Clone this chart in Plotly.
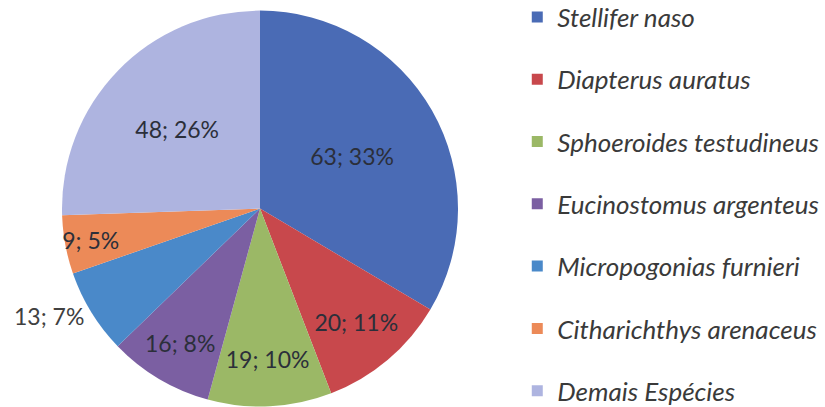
import plotly.graph_objects as go

species = ["Stellifer naso", "Diapterus auratus", "Sphoeroides testudineus",
           "Eucinostomus argenteus", "Micropogonias furnieri",
           "Citharichthys arenaceus", "Demais Espécies"]
counts = [63, 20, 19, 16, 13, 9, 48]
percent_labels = [33, 11, 10, 8, 7, 5, 26]
colors = ["#4A6BB5", "#C8484C", "#9BB866", "#7B5FA2", "#4A89C9", "#EC8A58", "#AEB4E0"]
text_positions = ["inside", "inside", "inside", "inside", "outside", "inside", "inside"]

FONT = "Lato"
labels_text = [f"{c}; {p}%" for c, p in zip(counts, percent_labels)]

fig = go.Figure()
fig.add_trace(go.Pie(
    labels=species, values=counts, text=labels_text, textinfo="text",
    textposition=text_positions, insidetextorientation="horizontal",
    sort=False, direction="clockwise", rotation=0, automargin=False,
    marker=dict(colors=colors, line=dict(width=0)),
    textfont=dict(family=FONT, size=23, color="#2b2f3a"),
    outsidetextfont=dict(family=FONT, size=23, color="#404040"),
    showlegend=False, hoverinfo="label+value+percent",
    domain=dict(x=[62/825, 458/825], y=[0, 0.975]),
))

legend_layout = {}
for i, (name, col) in enumerate(zip(species, colors)):
    key = "legend" if i == 0 else f"legend{i+1}"
    fig.add_trace(go.Scatter(
        x=[None], y=[None], mode="markers", name=name, legend=key,
        marker=dict(symbol="square", size=11, color=col),
    ))
    yc = 17 + i * 62.3
    legend_layout[key] = dict(
        x=0.627, y=1 - yc / 407, xanchor="left", yanchor="middle",
        font=dict(family=FONT, size=26, color="#3a3a3a", style="italic"),
        bgcolor="rgba(0,0,0,0)", borderwidth=0,
    )

fig.update_layout(
    width=825, height=407,
    margin=dict(l=0, r=0, t=0, b=0, autoexpand=False),
    paper_bgcolor="white", plot_bgcolor="white",
    xaxis=dict(visible=False), yaxis=dict(visible=False),
    uniformtext=dict(minsize=23, mode="show"),
    **legend_layout,
)

fig.write_html("out.html", config={"displayModeBar": False},
               post_script="document.body.style.margin='0';document.body.style.overflow='hidden';")
